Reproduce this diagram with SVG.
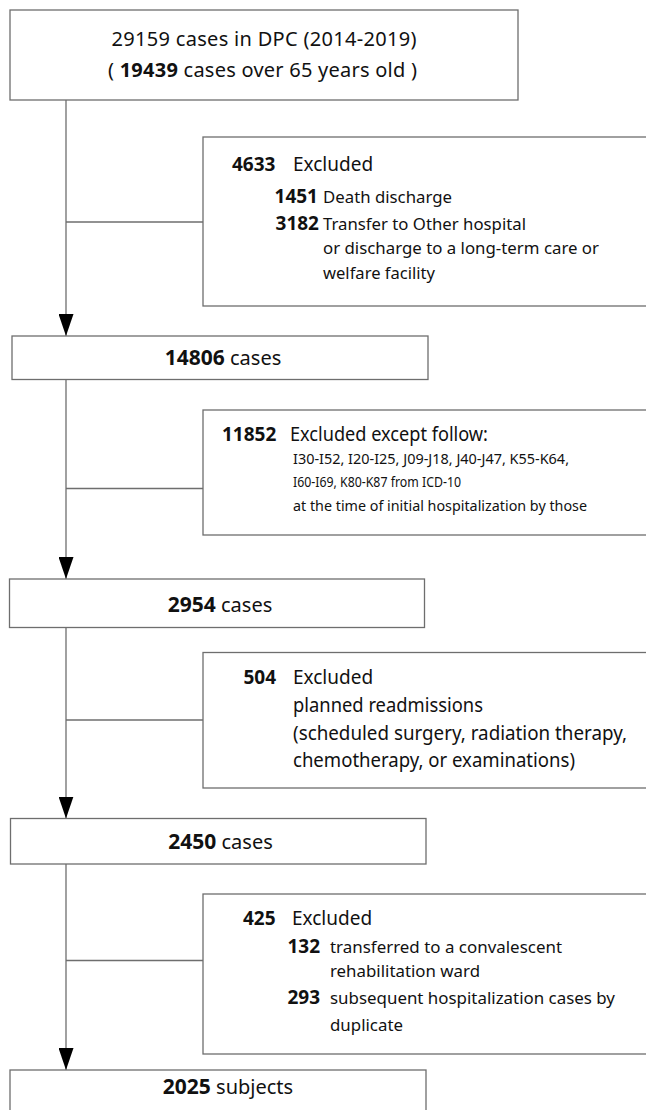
<svg xmlns="http://www.w3.org/2000/svg" width="646" height="1110" viewBox="0 0 646 1110">
<style>
text{font-family:"Noto Sans","Open Sans","Liberation Sans",sans-serif;fill:#111}
.box{fill:#fff;stroke:#6e6e6e;stroke-width:1.3}
.ln{fill:none;stroke:#6e6e6e;stroke-width:1.3}
.b{font-weight:bold}
.t20{font-size:20px}
.t19{font-size:19px}
.t17{font-size:17px}
.t14{font-size:14px}
</style>
<defs>
<marker id="arr" viewBox="0 0 22 15" refX="22" refY="7.5" markerWidth="22" markerHeight="15" markerUnits="userSpaceOnUse" orient="auto">
<path d="M0,0 L22,7.5 L0,15 z" fill="#000"/>
</marker>
</defs>
<rect width="646" height="1110" fill="#fff"/>
<g id="connectors">
<line class="ln" x1="66" y1="100" x2="66" y2="336" marker-end="url(#arr)"/>
<line class="ln" x1="66" y1="379.5" x2="66" y2="579" marker-end="url(#arr)"/>
<line class="ln" x1="66" y1="627.5" x2="66" y2="818.5" marker-end="url(#arr)"/>
<line class="ln" x1="66" y1="864" x2="66" y2="1070" marker-end="url(#arr)"/>
<line class="ln" x1="66" y1="222" x2="203" y2="222"/>
<line class="ln" x1="66" y1="488.5" x2="203" y2="488.5"/>
<line class="ln" x1="66" y1="720" x2="203" y2="720"/>
<line class="ln" x1="66" y1="960.5" x2="203" y2="960.5"/>
</g>
<g id="start">
<rect class="box" x="10" y="10" width="508" height="90"/>
<text class="t20" x="264" y="46" text-anchor="middle" textLength="305" lengthAdjust="spacing">29159 cases in DPC (2014-2019)</text>
<text class="t20" x="262.5" y="77" text-anchor="middle" textLength="309" lengthAdjust="spacing">( <tspan class="b">19439</tspan> cases over 65 years old )</text>
</g>
<g id="excl1">
<rect class="box" x="203" y="137" width="470" height="169"/>
<text class="t19 b" x="232" y="171">4633</text>
<text class="t19" x="293" y="171">Excluded</text>
<text class="t19 b" x="318" y="203" text-anchor="end">1451</text>
<text class="t17" x="323" y="203" textLength="129" lengthAdjust="spacingAndGlyphs">Death discharge</text>
<text class="t19 b" x="319" y="230" text-anchor="end">3182</text>
<text class="t17" x="323" y="230" textLength="203" lengthAdjust="spacingAndGlyphs">Transfer to Other hospital</text>
<text class="t17" x="323" y="254" textLength="276" lengthAdjust="spacingAndGlyphs">or discharge to a long-term care or</text>
<text class="t17" x="323" y="279" textLength="112" lengthAdjust="spacingAndGlyphs">welfare facility</text>
</g>
<g id="n14806">
<rect class="box" x="12" y="336" width="416" height="43.5"/>
<text class="t20" x="223" y="365" text-anchor="middle"><tspan class="b" font-size="21">14806</tspan> cases</text>
</g>
<g id="excl2">
<rect class="box" x="203" y="410" width="470" height="125"/>
<text class="t19 b" x="222" y="441">11852</text>
<text class="t19" x="290" y="441" textLength="198" lengthAdjust="spacingAndGlyphs">Excluded except follow:</text>
<text class="t14" x="293" y="464" textLength="276" lengthAdjust="spacingAndGlyphs">I30-I52, I20-I25, J09-J18, J40-J47, K55-K64,</text>
<text class="t14" x="293" y="487" textLength="168" lengthAdjust="spacingAndGlyphs">I60-I69, K80-K87 from ICD-10</text>
<text class="t14" x="293" y="511" textLength="294" lengthAdjust="spacingAndGlyphs">at the time of initial hospitalization by those</text>
</g>
<g id="n2954">
<rect class="box" x="9.5" y="579" width="415" height="48.5"/>
<text class="t20" x="220" y="612" text-anchor="middle"><tspan class="b" font-size="21">2954</tspan> cases</text>
</g>
<g id="excl3">
<rect class="box" x="203" y="652.5" width="470" height="135.5"/>
<text class="t19 b" x="243.5" y="684">504</text>
<text class="t19" x="293" y="684">Excluded</text>
<text class="t19" x="293" y="712" textLength="190" lengthAdjust="spacingAndGlyphs">planned readmissions</text>
<text class="t19" x="293" y="740" textLength="334" lengthAdjust="spacingAndGlyphs">(scheduled surgery, radiation therapy,</text>
<text class="t19" x="293" y="767" textLength="282" lengthAdjust="spacingAndGlyphs">chemotherapy, or examinations)</text>
</g>
<g id="n2450">
<rect class="box" x="10.5" y="818.5" width="415.5" height="45.5"/>
<text class="t20" x="220.5" y="848.5" text-anchor="middle"><tspan class="b" font-size="21">2450</tspan> cases</text>
</g>
<g id="excl4">
<rect class="box" x="203" y="894" width="470" height="160"/>
<text class="t19 b" x="243" y="925">425</text>
<text class="t19" x="292" y="925">Excluded</text>
<text class="t19 b" x="320" y="953" text-anchor="end">132</text>
<text class="t17" x="330" y="953" textLength="232" lengthAdjust="spacingAndGlyphs">transferred to a convalescent</text>
<text class="t17" x="330" y="977" textLength="150" lengthAdjust="spacingAndGlyphs">rehabilitation ward</text>
<text class="t19 b" x="320" y="1004" text-anchor="end">293</text>
<text class="t17" x="330" y="1004" textLength="285" lengthAdjust="spacingAndGlyphs">subsequent hospitalization cases by</text>
<text class="t17" x="330" y="1031" textLength="73" lengthAdjust="spacingAndGlyphs">duplicate</text>
</g>
<g id="n2025">
<rect class="box" x="10" y="1070" width="416" height="60"/>
<text class="t20" x="228" y="1093.5" text-anchor="middle"><tspan class="b" font-size="21">2025</tspan> subjects</text>
</g>
</svg>
